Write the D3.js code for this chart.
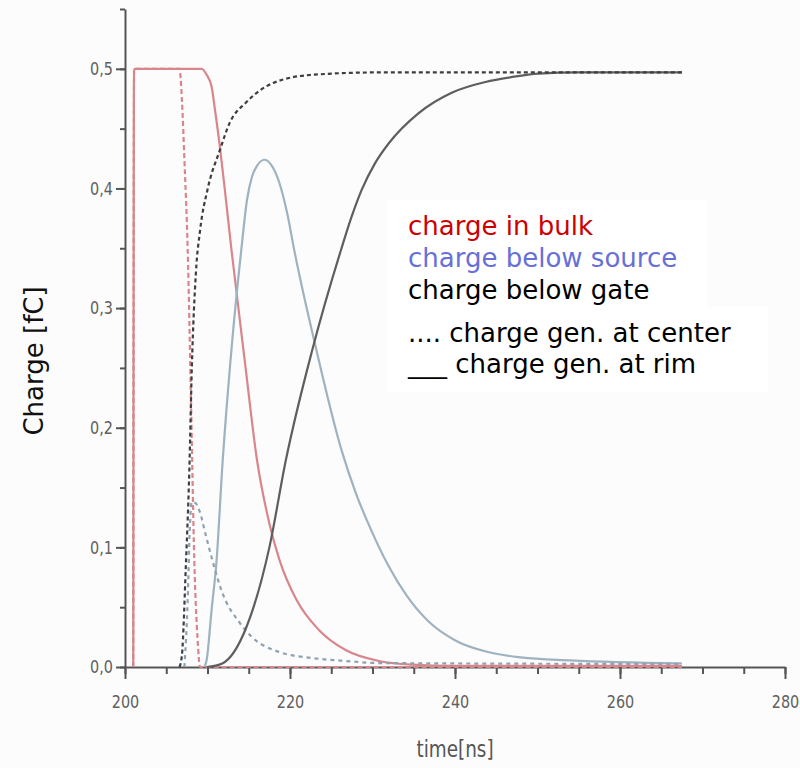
<!DOCTYPE html>
<html>
<head>
<meta charset="utf-8">
<script src="https://cdn.jsdelivr.net/npm/d3@7"></script>
<style>
    body { margin: 0; background: #fcfcfc; }
    svg { display: block; }
    .tick text { font-family: "DejaVu Sans", sans-serif; fill: #606060; }
    .axis path, .axis line { stroke: #555; stroke-width: 2; }
</style>
</head>
<body>
<svg id="chart" width="800" height="768"></svg>
<script>
// values: [time ns, charge fC]
const bulkRim = [[201.0, 0], [201.1, 0.5], [209.3, 0.5], [209.9, 0.495], [210.5, 0.485], [210.9, 0.466], [211.5, 0.435],
    [212.1, 0.399], [212.9, 0.349], [214.5, 0.257], [216.0, 0.173], [217.5, 0.12], [218.7, 0.09], [220.8, 0.056],
    [223.5, 0.031], [226.8, 0.014], [230.8, 0.005], [234.7, 0.002], [240.0, 0.001], [267.5, 0.001]];
const bulkCenter = [[201.0, 0], [201.1, 0.5], [206.6, 0.5], [206.9, 0.474], [207.2, 0.424], [207.6, 0.349], [208.0, 0.223],
    [208.4, 0.089], [208.8, 0.023], [209.1, 0], [267.5, 0]];
const sourceRim = [[209.65, 0], [209.9, 0.006], [210.5, 0.048], [211.1, 0.089], [211.8, 0.168], [212.9, 0.265], [214.1, 0.349],
    [214.8, 0.391], [215.4, 0.41], [216.0, 0.419], [216.9, 0.424], [217.7, 0.42], [218.7, 0.405], [219.7, 0.378],
    [220.5, 0.349], [223.2, 0.265], [226.3, 0.18], [228.0, 0.145], [229.8, 0.115], [231.9, 0.085], [234.1, 0.06],
    [236.8, 0.038], [240.1, 0.022], [244.0, 0.0125], [248.0, 0.008], [254.0, 0.0055], [267.5, 0.003]];
const sourceCenter = [[207.2, 0], [207.6, 0.056], [207.85, 0.115], [208.1, 0.138], [208.55, 0.137], [209.05, 0.13],
    [209.8, 0.11], [210.6, 0.089], [211.8, 0.062], [213.9, 0.037], [215.4, 0.025], [218.7, 0.0125], [222.7, 0.0075],
    [226.8, 0.005], [230.8, 0.0033], [267.5, 0.0025]];
const gateRim = [[209.9, 0], [211.8, 0.003], [214.7, 0.033], [217.5, 0.1], [219.5, 0.173], [222.7, 0.265], [226.2, 0.349],
    [227.5, 0.377], [228.7, 0.399], [230.3, 0.421], [232.0, 0.438], [235.6, 0.463], [239.6, 0.48], [243.7, 0.489],
    [246.8, 0.493], [250.1, 0.496], [254.9, 0.497], [267.5, 0.497]];
const gateCenter = [[206.6, 0], [206.9, 0.01], [207.4, 0.089], [207.8, 0.165], [208.1, 0.25], [208.6, 0.33], [209.1, 0.365],
    [210.0, 0.399], [211.5, 0.432], [212.7, 0.455], [214.7, 0.472], [217.9, 0.488], [222.7, 0.495], [230.8, 0.497],
    [267.5, 0.497]];

const xTicks = [200, 220, 240, 260, 280];
const xMinorTicks = [200, 205, 210, 215, 220, 225, 230, 235, 240, 245, 250, 255, 260, 265, 270, 275, 280];
const yTicks = [0, 0.1, 0.2, 0.3, 0.4, 0.5];
const yMinorTicks = [0, 0.05, 0.1, 0.15, 0.2, 0.25, 0.3, 0.35, 0.4, 0.45, 0.5, 0.55];

const legendColored = ["charge in bulk", "charge below source", "charge below gate"];
const legendStyle = [".... charge gen. at center", "___ charge gen. at rim"];

const svg = d3.select("#chart");
const x = d3.scaleLinear().domain([200, 280]).range([125, 785]);
const y = d3.scaleLinear().domain([0, 0.55]).range([667, 9]);

const comma = d3.formatLocale({decimal: ",", thousands: ".", grouping: [3], currency: ["", ""]}).format(".1f");

// legend boxes (white patches behind the text)
svg.append("rect").attr("x", 387).attr("y", 200).attr("width", 320).attr("height", 107).attr("fill", "#fff");
svg.append("rect").attr("x", 387).attr("y", 307).attr("width", 381).attr("height", 85).attr("fill", "#fff");

// axes: minor ticks first, then major with labels (labels squeezed to look condensed)
svg.append("g").attr("class", "axis").attr("transform", "translate(0,667)")
    .call(d3.axisBottom(x).tickValues(xMinorTicks).tickSize(7).tickSizeOuter(0).tickFormat(""));
svg.append("g").attr("class", "axis").attr("transform", "translate(0,667)")
    .call(d3.axisBottom(x).tickValues(xTicks).tickSize(12).tickSizeOuter(0).tickPadding(16).tickFormat(d3.format("d")))
    .call(g => g.select(".domain").remove())
    .selectAll("text").attr("font-size", 18).attr("transform", "scale(0.8,1)");

svg.append("g").attr("class", "axis").attr("transform", "translate(125,0)")
    .call(d3.axisLeft(y).tickValues(yMinorTicks).tickSize(5).tickSizeOuter(0).tickFormat(""));
svg.append("g").attr("class", "axis").attr("transform", "translate(125,0)")
    .call(d3.axisLeft(y).tickValues(yTicks).tickSize(9).tickSizeOuter(0).tickPadding(6).tickFormat(comma))
    .call(g => g.select(".domain").remove())
    .selectAll("text").attr("font-size", 18).attr("transform", "scale(0.8,1)");

// curves
let line = d3.line().x(d => x(d[0])).y(d => y(d[1])).curve(d3.curveMonotoneX);

const curves = [
    {data: bulkRim, color: "#d8868b", dash: null},
    {data: bulkCenter, color: "#d8868b", dash: "5,3"},
    {data: sourceRim, color: "#9fb2c0", dash: null},
    {data: sourceCenter, color: "#8fa2b0", dash: "4,4"},
    {data: gateRim, color: "#5e5e5e", dash: null},
    {data: gateCenter, color: "#3e3e3e", dash: "4,3"}
];

svg.append("g").selectAll("path")
    .data(curves)
    .join("path")
    .attr("d", c => line(c.data))
    .attr("fill", "none")
    .attr("stroke", c => c.color)
    .attr("stroke-width", 2.2)
    .attr("stroke-dasharray", c => c.dash);

// axis titles
svg.append("text")
    .attr("transform", "translate(43,361) rotate(-90)")
    .attr("text-anchor", "middle")
    .attr("font-family", "DejaVu Sans, Verdana, sans-serif")
    .attr("font-size", 26)
    .attr("fill", "#111")
    .text("Charge [fC]");

svg.append("text")
    .attr("transform", "translate(455,757) scale(0.8,1)")
    .attr("text-anchor", "middle")
    .attr("font-family", "DejaVu Sans, sans-serif")
    .attr("font-size", 23)
    .attr("fill", "#555")
    .text("time[ns]");

// legend
const legendColors = ["#cc0000", "#6670d8", "#000"];
svg.append("g").selectAll("text")
    .data(legendColored)
    .join("text")
    .attr("x", 408)
    .attr("y", (d, i) => 235 + i * 32)
    .attr("font-family", "DejaVu Sans, Verdana, sans-serif")
    .attr("font-size", 26)
    .attr("fill", (d, i) => legendColors[i])
    .text(d => d);

svg.append("g").selectAll("text")
    .data(legendStyle)
    .join("text")
    .attr("x", 408)
    .attr("y", (d, i) => 342 + i * 31)
    .attr("font-family", "DejaVu Sans, Verdana, sans-serif")
    .attr("font-size", 26)
    .attr("fill", "#000")
    .text(d => d);
</script>
</body>
</html>
